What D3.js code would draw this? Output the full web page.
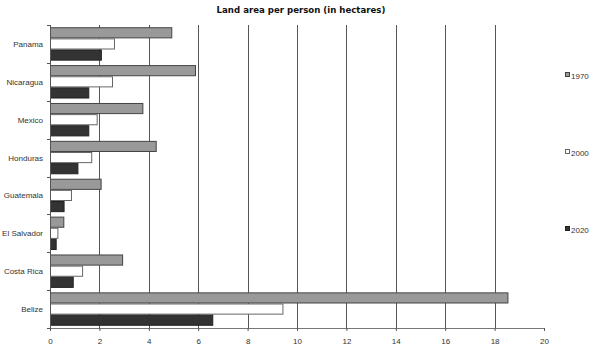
<!DOCTYPE html>
<html><head><meta charset="utf-8">
<script src="https://cdn.jsdelivr.net/npm/d3@7/dist/d3.min.js"></script>
<style>body{margin:0;background:#fff}svg{display:block}</style>
</head><body>
<svg id="c" width="600" height="355"></svg>
<script>
const categories = ["Panama","Nicaragua","Mexico","Honduras","Guatemala","El Salvador","Costa Rica","Belize"];
const seriesNames = ["1970","2000","2020"];
const v1970 = [4.95,5.91,3.78,4.32,2.09,0.58,2.96,18.56];
const v2000 = [2.63,2.55,1.93,1.71,0.89,0.34,1.34,9.45];
const v2020 = [2.10,1.59,1.59,1.15,0.59,0.27,0.96,6.61];
const xTicks = [0,2,4,6,8,10,12,14,16,18,20];
const title = "Land area per person (in hectares)";

const series = [v1970,v2000,v2020];
const fills = ["#999999","#ffffff","#333333"];
const strokes = ["#444444","#666666","#222222"];

const svg = d3.select("#c");
const m = {l:50,t:25};
const x = d3.scaleLinear().domain([0,20]).range([m.l,544]);
const y = d3.scaleBand().domain(categories).range([m.t,328]).paddingInner(0).paddingOuter(0);
const inner = d3.scaleBand().domain(seriesNames).range([0,y.bandwidth()]).paddingOuter(0.2).paddingInner(0);
const FONT = "'Liberation Sans', Arial, sans-serif";

svg.append("text").attr("x",301).attr("y",13).attr("text-anchor","middle")
  .attr("font-family","DejaVu Sans").attr("font-weight","bold").attr("font-size","8.6px").attr("fill","#111").text(title);

svg.append("g").selectAll("line").data(xTicks.filter(d=>d>0 && d<20)).join("line")
  .attr("x1",d=>Math.round(x(d))+0.5).attr("x2",d=>Math.round(x(d))+0.5).attr("y1",m.t).attr("y2",328)
  .attr("stroke","#555").attr("stroke-width",1);

categories.forEach((c,i)=>{
  seriesNames.forEach((s,j)=>{
    svg.append("rect")
      .attr("x",x(0)+0.5).attr("y",y(c)+inner(s)+0.5)
      .attr("width",Math.max(0,x(series[j][i])-x(0)-1)).attr("height",inner.bandwidth()-1)
      .attr("fill",fills[j]).attr("stroke",strokes[j]).attr("stroke-width",1);
  });
});

const ya = svg.append("g");
ya.append("line").attr("x1",x(0)+0.5).attr("x2",x(0)+0.5).attr("y1",m.t).attr("y2",328).attr("stroke","#555");
const bounds = categories.map(c=>y(c)).concat([328]);
ya.selectAll(".tk").data(bounds).join("line").attr("class","tk")
  .attr("x1",x(0)-3).attr("x2",x(0)).attr("y1",d=>Math.round(d)+0.5).attr("y2",d=>Math.round(d)+0.5).attr("stroke","#555");
ya.selectAll("text").data(categories).join("text")
  .attr("x",43).attr("y",d=>y(d)+y.bandwidth()/2+3).attr("text-anchor","end")
  .attr("font-family",FONT).attr("font-size","8px").attr("fill","#333").text(d=>d);

const xa = svg.append("g").attr("transform","translate(0,328)")
  .call(d3.axisBottom(x).tickValues(xTicks).tickSize(3).tickFormat(d3.format("d")));
xa.select(".domain").attr("stroke","#777");
xa.selectAll(".tick line").attr("stroke","#555");
xa.selectAll("text").attr("font-family",FONT).attr("font-size","8px").attr("fill","#333").attr("dy","1.2em");

const ly = [79,156,233];
seriesNames.forEach((s,j)=>{
  svg.append("rect").attr("x",565.5).attr("y",ly[j]-6.5).attr("width",4).attr("height",4)
    .attr("fill",fills[j]).attr("stroke",strokes[j]).attr("stroke-width",1);
  svg.append("text").attr("x",571).attr("y",ly[j]).attr("font-family",FONT)
    .attr("font-size","8px").attr("fill","#333").text(s);
});
</script>
</body></html>
